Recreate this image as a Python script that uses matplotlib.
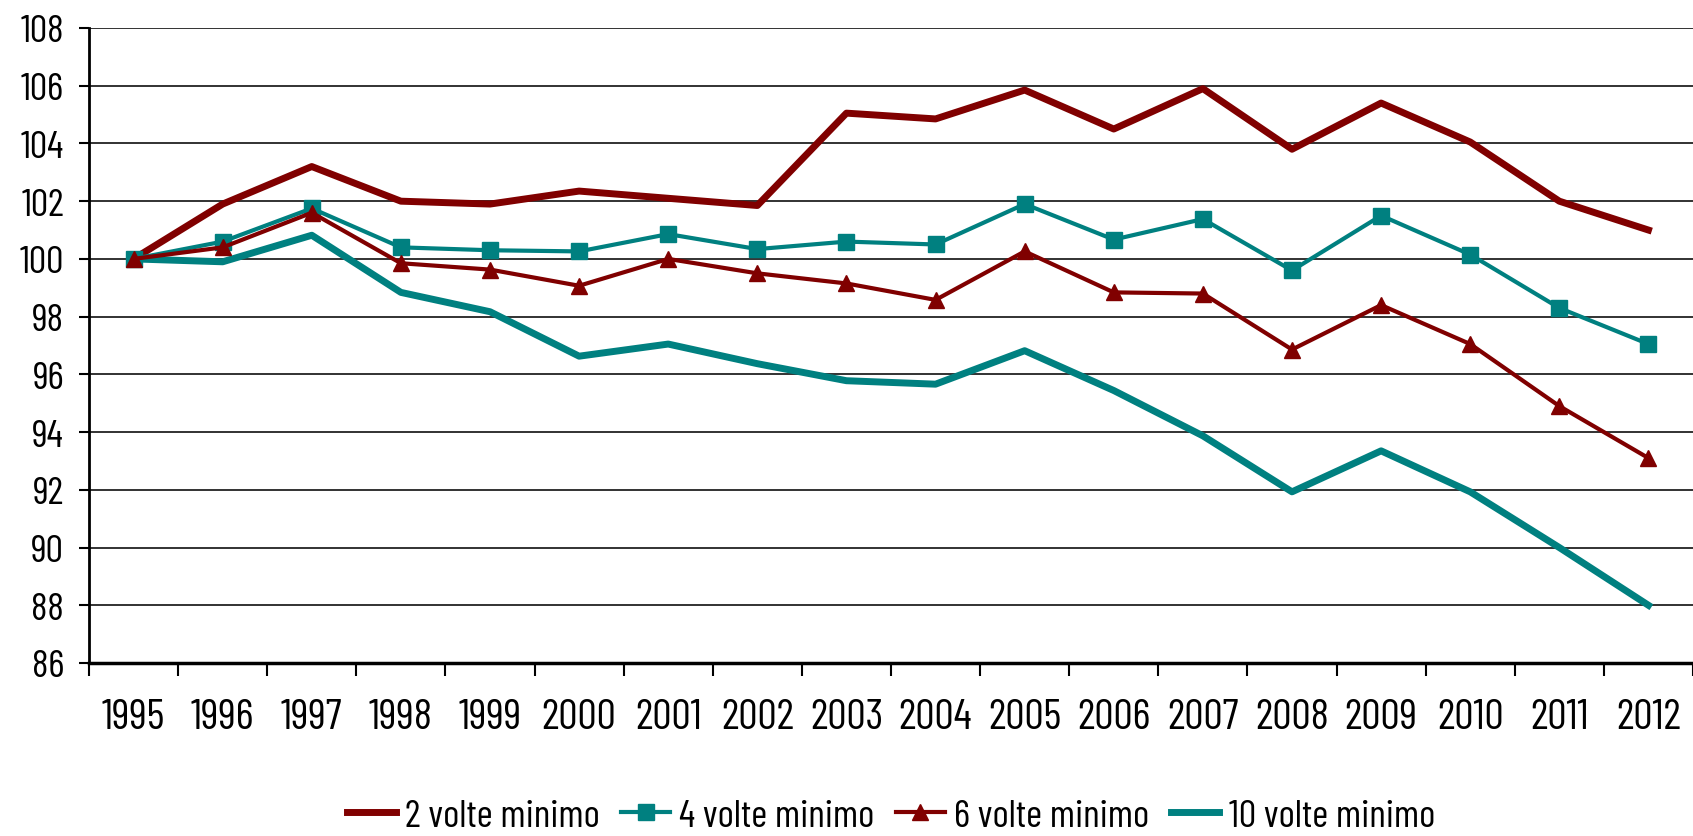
import matplotlib
matplotlib.use("Agg")
import matplotlib.pyplot as plt
from matplotlib import font_manager
from matplotlib.ticker import FixedLocator, MultipleLocator

names = {f.name for f in font_manager.fontManager.ttflist}
fam = [n for n in ["Barlow Condensed", "Archivo Narrow", "PT Sans Narrow", "Liberation Sans", "DejaVu Sans"] if n in names]
plt.rcParams['font.family'] = fam

years = ["1995", "1996", "1997", "1998", "1999", "2000", "2001", "2002", "2003",
         "2004", "2005", "2006", "2007", "2008", "2009", "2010", "2011", "2012"]
volte2 = [100.0, 101.9, 103.2, 102.0, 101.9, 102.35, 102.1, 101.85, 105.05,
          104.85, 105.85, 104.5, 105.9, 103.8, 105.4, 104.05, 102.0, 101.0]
volte4 = [100.0, 100.6, 101.75, 100.4, 100.3, 100.26, 100.86, 100.34, 100.6,
          100.5, 101.9, 100.67, 101.38, 99.6, 101.5, 100.15, 98.3, 97.05]
volte6 = [100.0, 100.4, 101.6, 99.85, 99.63, 99.07, 100.0, 99.5, 99.15,
          98.58, 100.26, 98.84, 98.8, 96.86, 98.4, 97.05, 94.9, 93.1]
volte10 = [100.0, 99.9, 100.82, 98.84, 98.17, 96.63, 97.05, 96.37, 95.78,
           95.66, 96.82, 95.44, 93.87, 91.93, 93.35, 91.93, 90.0, 88.0]
labels = ["2 volte minimo", "4 volte minimo", "6 volte minimo", "10 volte minimo"]

RED = "#800000"
TEAL = "#008080"

fig = plt.figure(figsize=(16.93, 8.37), dpi=100)
ax = fig.add_axes([89/1693, 1-664/837, 1-89/1693, (664-29)/837])

x = list(range(len(years)))
ax.plot(x, volte2, color=RED, lw=5, label=labels[0], zorder=3)
ax.plot(x, volte4, color=TEAL, lw=3, marker='s', ms=11, label=labels[1], zorder=4)
ax.plot(x, volte6, color=RED, lw=3, marker='^', ms=11, label=labels[2], zorder=5)
ax.plot(x, volte10, color=TEAL, lw=5, label=labels[3], zorder=3)

ax.set_xlim(-0.5, len(years) - 0.5)
ax.set_ylim(86, 108)
ax.yaxis.set_major_locator(MultipleLocator(2))
ax.grid(axis='y', color='#222222', lw=1.3, zorder=1)
ax.set_axisbelow(True)

ax.set_xticks(x)
ax.set_xticklabels(years)
ax.xaxis.set_minor_locator(FixedLocator([i + 0.5 for i in range(-1, len(years))]))
ax.tick_params(axis='x', which='major', length=0, pad=25, labelsize=31)
ax.tick_params(axis='x', which='minor', length=9, width=1.5, direction='out')
ax.tick_params(axis='y', which='major', length=7, width=1.5, pad=11, labelsize=28)

for s in ['top', 'right']:
    ax.spines[s].set_visible(False)
ax.spines['left'].set_linewidth(2)
ax.spines['bottom'].set_linewidth(2.5)

ax.legend(loc='center', bbox_to_anchor=(0.5, -0.241), ncol=4, frameon=False,
          fontsize=28, handlelength=1.25, handletextpad=0.24, columnspacing=0.55,
          borderaxespad=0, borderpad=0)

fig.savefig("out.png", dpi=100)
